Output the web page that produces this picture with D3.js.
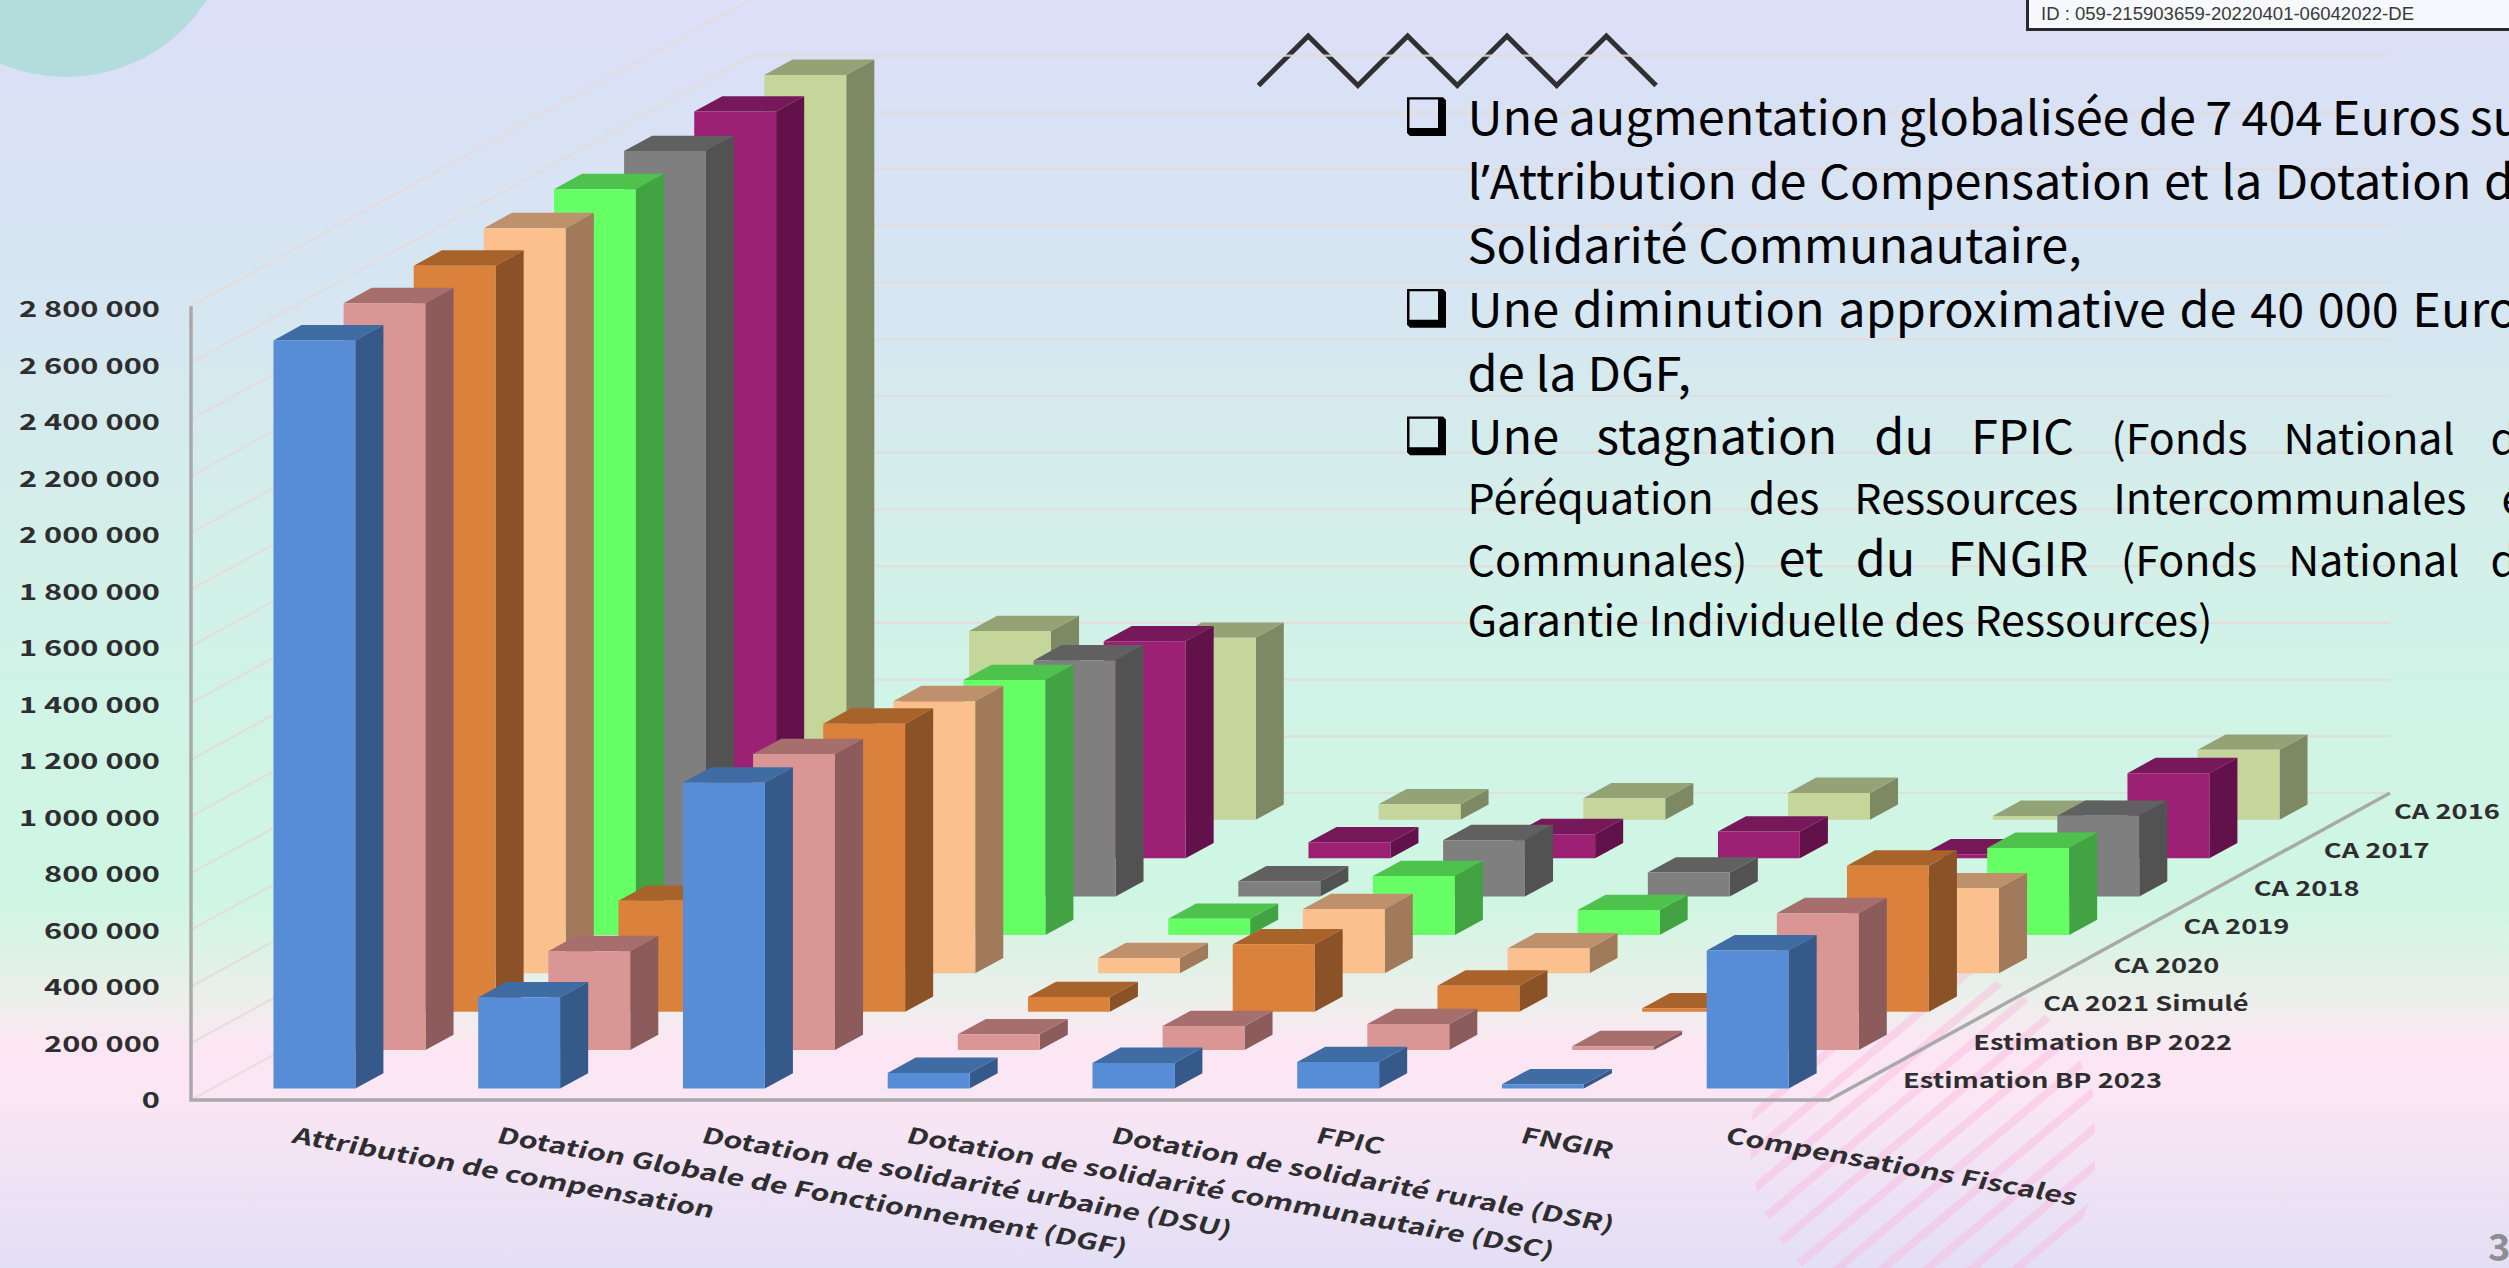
<!DOCTYPE html>
<html lang="fr">
<head>
<meta charset="utf-8">
<title>Dotations et compensations</title>
<script src="https://cdn.jsdelivr.net/npm/d3@7/dist/d3.min.js"></script>
<style>
  html, body { margin: 0; padding: 0; overflow: hidden; background: #fff; }
  svg { display: block; }
  .label { font-family: "Noto Sans CJK SC", "Noto Sans", sans-serif; font-weight: 700; fill: #2e2d2f; }
  .note { font-family: "Noto Sans CJK SC", "Noto Sans", sans-serif; font-weight: 400; fill: #000; }
</style>
</head>
<body>
<script>
// Budget lines along the horizontal axis
const categories = [
  "Attribution de compensation",
  "Dotation Globale de Fonctionnement (DGF)",
  "Dotation de solidarité urbaine (DSU)",
  "Dotation de solidarité communautaire (DSC)",
  "Dotation de solidarité rurale (DSR)",
  "FPIC",
  "FNGIR",
  "Compensations Fiscales"
];

// Financial years along the depth axis, front row first
const seriesNames = [
  "Estimation BP 2023", "Estimation BP 2022", "CA 2021 Simulé", "CA 2020",
  "CA 2019", "CA 2018", "CA 2017", "CA 2016"
];

const estimationBP2023 = [2638000, 321000, 1079000, 55000,  90000, 93000, 15000, 487000];
const estimationBP2022 = [2634000, 349000, 1044000, 56000,  85000, 92000, 14000, 483000];
const ca2021Simule     = [2631000, 391000, 1016000, 52000, 238000, 92000, 12000, 515000];
const ca2020           = [2628000, 420000,  960000, 54000, 227000, 88000, 14000, 300000];
const ca2019           = [2630000, 450000,  899000, 57000, 208000, 88000, 14000, 307000];
const ca2018           = [2629000, 490000,  833000, 54000, 199000, 85000, 14000, 285000];
const ca2017           = [2633000, 550000,  765000, 56000,  85000, 94000, 14000, 300000];
const ca2016           = [2627000, 666000,  642000, 55000,  76000, 95000, 14000, 247000];

const seriesValues = [
  estimationBP2023, estimationBP2022, ca2021Simule, ca2020,
  ca2019, ca2018, ca2017, ca2016
];

// Front, side and top face colours of each row
const frontColors = ["#568DD6", "#D99694", "#DA813C", "#FCC08E", "#66FF66", "#7F7F7F", "#9C2073", "#C4D69A"];
const sideColors  = ["#355A8A", "#8C5C5C", "#8A5226", "#A07A5A", "#41A341", "#525252", "#63114A", "#7D8963"];
const topColors   = ["#3F6CA3", "#A66F6E", "#A8632B", "#BE916C", "#4DC24D", "#606060", "#77185A", "#94A376"];

const yTickValues = d3.range(0, 2800001, 200000);

// Commentary block: each line is a list of runs, "s" runs are set smaller, "q" is the apostrophe
const noteLines = [
  { bullet: true,  justify: true,  runs: [["Une augmentation globalisée de 7 404 Euros sur", "b"]] },
  { bullet: false, justify: true,  runs: [["l", "b"], ["’", "q"], ["Attribution de Compensation et la Dotation de", "b"]] },
  { bullet: false, justify: false, runs: [["Solidarité Communautaire,", "b"]] },
  { bullet: true,  justify: true,  runs: [["Une diminution approximative de 40 000 Euros", "b"]] },
  { bullet: false, justify: false, runs: [["de la DGF,", "b"]] },
  { bullet: true,  justify: true,  runs: [["Une stagnation du FPIC ", "b"], ["(Fonds National de", "s"]] },
  { bullet: false, justify: true,  runs: [["Péréquation des Ressources Intercommunales et", "s"]] },
  { bullet: false, justify: true,  runs: [["Communales) ", "s"], ["et du FNGIR ", "b"], ["(Fonds National de", "s"]] },
  { bullet: false, justify: false, runs: [["Garantie Individuelle des Ressources)", "s"]] }
];

const width = 2509, height = 1268;
const svg = d3.select("body").append("svg").attr("width", width).attr("height", height);
const defs = svg.append("defs");

// Page background
const bgStops = [
  [0, "#DEDFF9"], [60, "#DAE0F6"], [300, "#D6E6F2"], [500, "#D4EEEA"], [700, "#D0F4E7"],
  [900, "#CFF6E3"], [960, "#DFF2E5"], [1005, "#EEEEEC"], [1050, "#FDE6F3"], [1100, "#FAE6F4"], [1268, "#E3DFF6"]
];
const bg = defs.append("linearGradient").attr("id", "bg").attr("x1", 0).attr("y1", 0).attr("x2", 0).attr("y2", 1);
bg.selectAll("stop").data(bgStops).join("stop")
  .attr("offset", d => d[0] / height).attr("stop-color", d => d[1]);
svg.append("rect").attr("width", width).attr("height", height).attr("fill", "url(#bg)");

// Corner disc
svg.append("circle").attr("cx", 66).attr("cy", -91).attr("r", 168).attr("fill", "#B3DCDC");

// Zigzag ornament, under the gridlines
const zigzagLine = d3.line();
svg.append("path").attr("fill", "none").attr("stroke", "#303032").attr("stroke-width", 5).attr("stroke-linejoin", "miter")
  .attr("d", zigzagLine(d3.range(9).map(i => [1258.5 + i * 49.7, i % 2 ? 36 : 85.5])));

// Hatched disc under the chart
defs.append("clipPath").attr("id", "hatchClip").append("path")
  .attr("d", d3.arc()({ innerRadius: 0, outerRadius: 175, startAngle: 0, endAngle: 2 * Math.PI }))
  .attr("transform", "translate(1925,1142)");
defs.append("clipPath").attr("id", "hatchEdge").append("rect")
  .attr("x", 1700).attr("y", 900).attr("width", 395).attr("height", 368);
const hatch = svg.append("g").attr("clip-path", "url(#hatchEdge)")
  .append("g").attr("clip-path", "url(#hatchClip)");
const hatchAngle = 40 * Math.PI / 180, hatchGap = 28.7;
d3.range(-6, 12).forEach(k => {
  const px = 1753 + k * hatchGap * Math.sin(hatchAngle);
  const py = 1115 + k * hatchGap * Math.cos(hatchAngle);
  hatch.append("line")
    .attr("x1", px - 600 * Math.cos(hatchAngle)).attr("y1", py + 600 * Math.sin(hatchAngle))
    .attr("x2", px + 600 * Math.cos(hatchAngle)).attr("y2", py - 600 * Math.sin(hatchAngle))
    .attr("stroke", "#FBB4DC").attr("stroke-opacity", 0.4).attr("stroke-width", 8);
});

// Oblique projection of the chart box
const originX = 191, originY = 1100;
const plotWidth = 1638, plotHeight = 794;
const depthDX = 561, depthDY = 307;

const x = d3.scaleBand().domain(categories).range([0, plotWidth]).paddingInner(0.6).paddingOuter(0.3);
const depth = d3.scaleBand().domain(seriesNames).range([0, 1]).paddingInner(0.6).paddingOuter(0.3);
const y = d3.scaleLinear().domain([0, 2800000]).range([0, plotHeight]);

const project = (px, d, h) => [originX + px + d * depthDX, originY - h - d * depthDY];
const poly = pts => "M" + pts.map(p => p.join(",")).join("L") + "Z";

// Gridlines on the side wall and the back wall
const grid = svg.append("g").attr("fill", "none").attr("stroke", "#E4DADB").attr("stroke-opacity", 0.85).attr("stroke-width", 2.2);
yTickValues.forEach(v => {
  const h = y(v);
  const a = project(0, 0, h), b = project(0, 1, h), c = project(plotWidth, 1, h);
  grid.append("path").attr("d", "M" + [a, b, c].map(p => p.join(",")).join("L"));
});

// Bars, back row first so nearer rows cover farther ones
const bars = svg.append("g");
d3.range(seriesNames.length - 1, -1, -1).forEach(s => {
  const d0 = depth(seriesNames[s]), d1 = d0 + depth.bandwidth();
  categories.forEach((cat, c) => {
    const x0 = x(cat), x1 = x0 + x.bandwidth(), h = y(seriesValues[s][c]);
    const g = bars.append("g");
    g.append("path").attr("fill", sideColors[s])
      .attr("d", poly([project(x1, d0, 0), project(x1, d1, 0), project(x1, d1, h), project(x1, d0, h)]));
    g.append("path").attr("fill", topColors[s])
      .attr("d", poly([project(x0, d0, h), project(x1, d0, h), project(x1, d1, h), project(x0, d1, h)]));
    g.append("path").attr("fill", frontColors[s])
      .attr("d", poly([project(x0, d0, 0), project(x1, d0, 0), project(x1, d0, h), project(x0, d0, h)]));
  });
});

// Axis lines
const axisStroke = "#A9A9AB";
svg.append("path").attr("fill", "none").attr("stroke", axisStroke).attr("stroke-width", 3.5)
  .attr("stroke-linejoin", "miter")
  .attr("d", "M" + [project(0, 0, plotHeight), project(0, 0, 0), project(plotWidth, 0, 0), project(plotWidth, 1, 0)].map(p => p.join(",")).join("L"));

// Value axis labels, set slightly inside the axis extent
const frenchNumber = d3.formatLocale({ decimal: ",", thousands: " ", grouping: [3], currency: ["", " €"] }).format(",");
const yAxisScale = d3.scaleLinear().domain([0, 2800000]).range([originY - 1.5, originY - plotHeight + 1.5]);
const yAxisG = svg.append("g").attr("transform", "translate(160,0)")
  .call(d3.axisLeft(yAxisScale).tickValues(yTickValues).tickSize(0).tickPadding(0).tickFormat(frenchNumber));
yAxisG.select(".domain").remove();
yAxisG.selectAll("text")
  .attr("class", "label").attr("font-size", 22).attr("x", 0).attr("dy", "0.42em")
  .attr("transform", "scale(1.4,1)");

// Category labels, sheared along the floor
svg.append("g").selectAll("text").data(categories).join("text")
  .attr("class", "label").attr("font-size", 22).attr("dy", "0.35em")
  .attr("transform", d => `translate(${originX + x(d) + x.bandwidth() / 2},1135) scale(1.395,1) rotate(14.1)`)
  .text(d => d);

// Depth axis labels along the right edge of the floor
svg.append("g").selectAll("text").data(seriesNames).join("text")
  .attr("class", "label").attr("font-size", 20.5).attr("dy", "0.35em")
  .attr("transform", d => {
    const p = project(plotWidth, depth(d) + depth.bandwidth() / 2, 0);
    return `translate(${p[0] + 39},${p[1]}) scale(1.33,1)`;
  })
  .text(d => d);

// Reference stamp, top right
svg.append("rect").attr("x", 2027.5).attr("y", -5).attr("width", 500).attr("height", 34.5)
  .attr("fill", "#F7F9FE").attr("stroke", "#2A2A2C").attr("stroke-width", 3);
svg.append("text").attr("x", 2041).attr("y", 20)
  .attr("font-family", "'Liberation Sans', Arial, sans-serif").attr("font-size", 17.5).attr("fill", "#3A3A3C")
  .attr("textLength", 373).attr("lengthAdjust", "spacingAndGlyphs")
  .text("ID : 059-215903659-20220401-06042022-DE");

// Commentary text
const noteX = 1467.5, noteRight = 2541, noteScale = 1.035;
const noteBaselines = [135, 199.3, 263.3, 326.7, 390.7, 454.3, 514.3, 576.2, 636];
const runSize = { b: 47, s: 41.5, q: 47 };
const notes = svg.append("g");
noteLines.forEach((line, i) => {
  const base = noteBaselines[i];
  const t = notes.append("text").attr("class", "note")
    .attr("transform", `translate(${noteX},${base}) scale(${noteScale},1)`);
  line.runs.forEach(r => {
    const run = t.append("tspan").attr("font-size", runSize[r[1]]).text(r[0]);
    if (r[1] === "q") run.style("font-family", "'Noto Sans', sans-serif");
  });
  if (line.justify) {
    const natural = t.node().getComputedTextLength();
    const text = line.runs.map(r => r[0]).join("");
    const gaps = text.split(" ").length - 1;
    t.attr("word-spacing", ((noteRight - noteX) / noteScale - natural) / gaps);
  }
  if (line.bullet) {
    // Hollow square with a heavy lower-right shadow
    notes.append("path").attr("fill", "#000").attr("fill-rule", "evenodd")
      .attr("d", `M1407,${base - 37.7}L1443,${base - 37.7}L1446,${base - 34.7}L1446,${base + 1}L1410,${base + 1}L1407,${base - 2}Z`
        + `M1409.5,${base - 35.5}L1438,${base - 35.5}L1438,${base - 7}L1409.5,${base - 7}Z`);
  }
});

// Page number
svg.append("text").attr("class", "label").attr("x", 2488).attr("y", 1261)
  .attr("font-size", 38).style("fill", "#8E8E90").text("3");
</script>
</body>
</html>
